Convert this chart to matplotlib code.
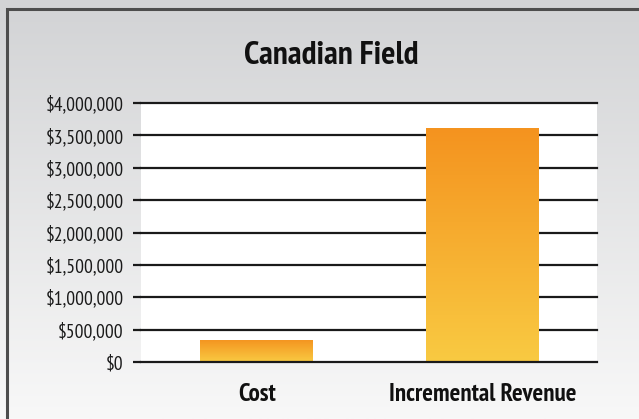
import numpy as np
import matplotlib
matplotlib.use("Agg")
from matplotlib import pyplot as plt
from matplotlib.colors import LinearSegmentedColormap
from matplotlib.ticker import FuncFormatter

categories = ["Cost", "Incremental Revenue"]
values = [340000, 3610000]
ticks = [0, 500000, 1000000, 1500000, 2000000, 2500000, 3000000, 3500000, 4000000]
title = "Canadian Field"

fonts = ["PT Sans Narrow", "DejaVu Sans"]
plt.rcParams["font.family"] = fonts

fig = plt.figure(figsize=(6.39, 4.19), dpi=100)

# background gradient over whole figure
bg = fig.add_axes([0, 0, 1, 1], zorder=-10)
grad = np.linspace(0, 1, 256).reshape(-1, 1)
bg_cmap = LinearSegmentedColormap.from_list("bg", ["#d2d3d5", "#f8f8f8"])
bg.imshow(grad, aspect="auto", cmap=bg_cmap, extent=[0, 1, 0, 1], origin="upper")
bg.set_xlim(0, 1)
bg.set_ylim(0, 1)
bg.axis("off")
# frame, open at the bottom and right
bg.plot([7/639, 7/639, 1.0], [0, 1 - 9/419, 1 - 9/419], color="#4d4d4d", lw=2.2,
        solid_capstyle="butt", solid_joinstyle="miter")

ax = fig.add_axes([141/639, 57/419, 456/639, 259/419])
ax.set_facecolor("white")

for t in ticks:
    ax.axhline(t, color="#1a1a1a", lw=1.6, zorder=1 if t else 4, clip_on=False)

bar_cmap = LinearSegmentedColormap.from_list("bar", ["#f9ca42", "#f4931f"])
bars = ax.bar(range(len(categories)), values, width=0.5, color="none", zorder=2)
for b in bars:
    x0, w, h = b.get_x(), b.get_width(), b.get_height()
    im = ax.imshow(grad, aspect="auto", cmap=bar_cmap, origin="lower",
                   extent=[x0, x0 + w, 0, h], zorder=2)
    im.set_clip_path(b)
ax.set_xlim(-0.513, 1.505)
ax.set_ylim(0, 4000000)

ax.set_yticks(ticks)
ax.yaxis.set_major_formatter(FuncFormatter(lambda v, p: "${:,.0f}".format(v)))
ax.tick_params(axis="y", length=5.5, width=1.6, color="#1a1a1a", pad=7,
               labelsize=14, labelcolor="#1a1a1a")
ax.set_xticks(range(len(categories)))
ax.set_xticklabels(categories, fontsize=18, fontweight="bold", color="#111111")
ax.tick_params(axis="x", length=0, pad=15)
for s in ax.spines.values():
    s.set_visible(False)

fig.text(331/639, 1 - 56/419, title, ha="center", va="center",
         fontsize=24, fontweight="bold", color="#111111")

fig.savefig("out.png", dpi=100)
